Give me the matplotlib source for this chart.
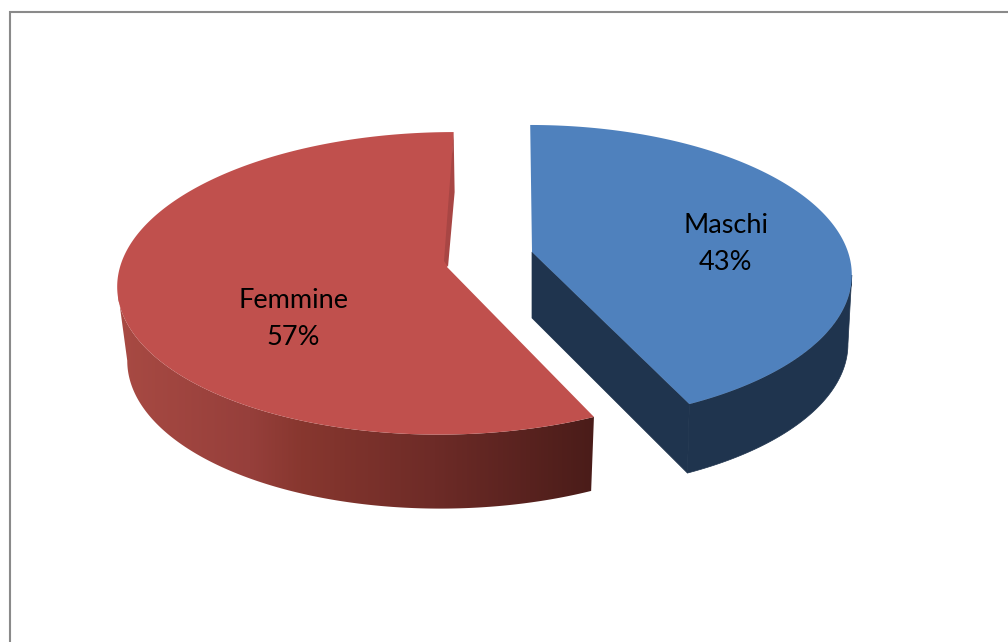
import numpy as np
import matplotlib
matplotlib.use("Agg")
import matplotlib.pyplot as plt
from matplotlib.patches import Polygon
from matplotlib.colors import to_rgb, LinearSegmentedColormap

labels = ["Maschi", "Femmine"]
values = [43, 57]

#slice geometry in pixels: apex, radii, perspective, vanishing x, wall height, wall shrink
maschi_geo = dict(cx=532, cy=252, rx=316, ry=145.7, k=0.147, vx=518)
femmine_geo = dict(cx=447, cy=267, rx=327, ry=149.5, k=0.108, vx=515)
maschi_wall = dict(depth=69, shrink=0.988, vx=532)
femmine_wall = dict(depth=74, shrink=0.973, vx=490)


def project(t, r, geo):
    #t in degrees, clockwise from the top of the disc
    a = np.radians(t)
    X, Y = r * np.sin(a), -r * np.cos(a)
    w = 1 - geo["k"] * Y
    x = geo["vx"] + (geo["cx"] - geo["vx"] + geo["rx"] * X) / w
    y = geo["cy"] + geo["ry"] * Y / w
    return x, y


def lower(x, y, wall):
    return wall["vx"] + (x - wall["vx"]) * wall["shrink"], y + wall["depth"]


def outline(t0, t1, geo):
    ts = np.linspace(t0, t1, 300)
    xs, ys = project(ts, 1.0, geo)
    return np.column_stack([xs, ys])


fig = plt.figure(figsize=(10.08, 6.42), dpi=100)
ax = fig.add_axes([0, 0, 1, 1])
ax.axis("off")

#frame, open at right and bottom
ax.plot([10, 10, 1008], [642, 12, 12], color="#8a8a8a", lw=1.5, solid_joinstyle="miter")

split = 360 * values[0] / sum(values)

#Femmine wall stops at the left silhouette, shade runs along x
rim = outline(split, 360, femmine_geo)
rim = rim[: np.argmin(rim[:, 0]) + 1]
bx, by = lower(rim[:, 0], rim[:, 1], femmine_wall)
wall = Polygon(np.vstack([rim, np.column_stack([bx, by])[::-1]]),
               facecolor="none", edgecolor="none", transform=ax.transData)
ax.add_patch(wall)
stops_x = np.array([118, 250, 300, 435, 595])
stops_c = ["#a84a43", "#963f3b", "#88372f", "#6d2b27", "#4a1c19"]
cmap = LinearSegmentedColormap.from_list("wall", list(zip((stops_x - 118) / (595 - 118), map(to_rgb, stops_c))))
im = ax.imshow(np.linspace(0, 1, 256)[None, :], cmap=cmap, aspect="auto", extent=[118, 595, 520, 280], zorder=1)
im.set_clip_path(wall)

#Femmine top
apex = (femmine_geo["cx"], femmine_geo["cy"])
ax.add_patch(Polygon(np.vstack([[apex], outline(split, 360, femmine_geo)]), facecolor="#c0504d", edgecolor="none", zorder=2))

#Femmine inner sliver
ox, oy = project(360, 1.0, femmine_geo)
ax.add_patch(Polygon([(ox, oy), (ox + 1, oy + 60), (apex[0] + 1, apex[1]), (apex[0] - 3, apex[1] - 6)],
                     facecolor="#a84644", edgecolor="none", zorder=2))

#Maschi wall from the right silhouette, and cut face
blue_dark = "#1f344e"
rim = outline(0, split, maschi_geo)
rim = rim[np.argmax(rim[:, 0]):]
bx, by = lower(rim[:, 0], rim[:, 1], maschi_wall)
ax.add_patch(Polygon(np.vstack([rim, np.column_stack([bx, by])[::-1]]),
                     facecolor=blue_dark, edgecolor=blue_dark, lw=0.5, zorder=2))
apex = (maschi_geo["cx"], maschi_geo["cy"])
ax.add_patch(Polygon([apex, rim[-1], (bx[-1], by[-1]), (apex[0], apex[1] + maschi_wall["depth"] - 3)],
                     facecolor=blue_dark, edgecolor=blue_dark, lw=0.5, zorder=2))

#Maschi top
ax.add_patch(Polygon(np.vstack([[apex], outline(0, split, maschi_geo)]), facecolor="#4f81bd", edgecolor="none", zorder=3))

ax.set_xlim(0, 1008)
ax.set_ylim(642, 0)

#labels
font = ["Lato", "DejaVu Sans"]
ax.text(725.5, 244, f"{labels[0]}\n{values[0]}%", ha="center", va="center", fontsize=19.5,
        family=font, color="black", linespacing=1.6, zorder=4)
ax.text(293.5, 319, f"{labels[1]}\n{values[1]}%", ha="center", va="center", fontsize=19.5,
        family=font, color="black", linespacing=1.6, zorder=4)

fig.savefig("out.png", dpi=100)
